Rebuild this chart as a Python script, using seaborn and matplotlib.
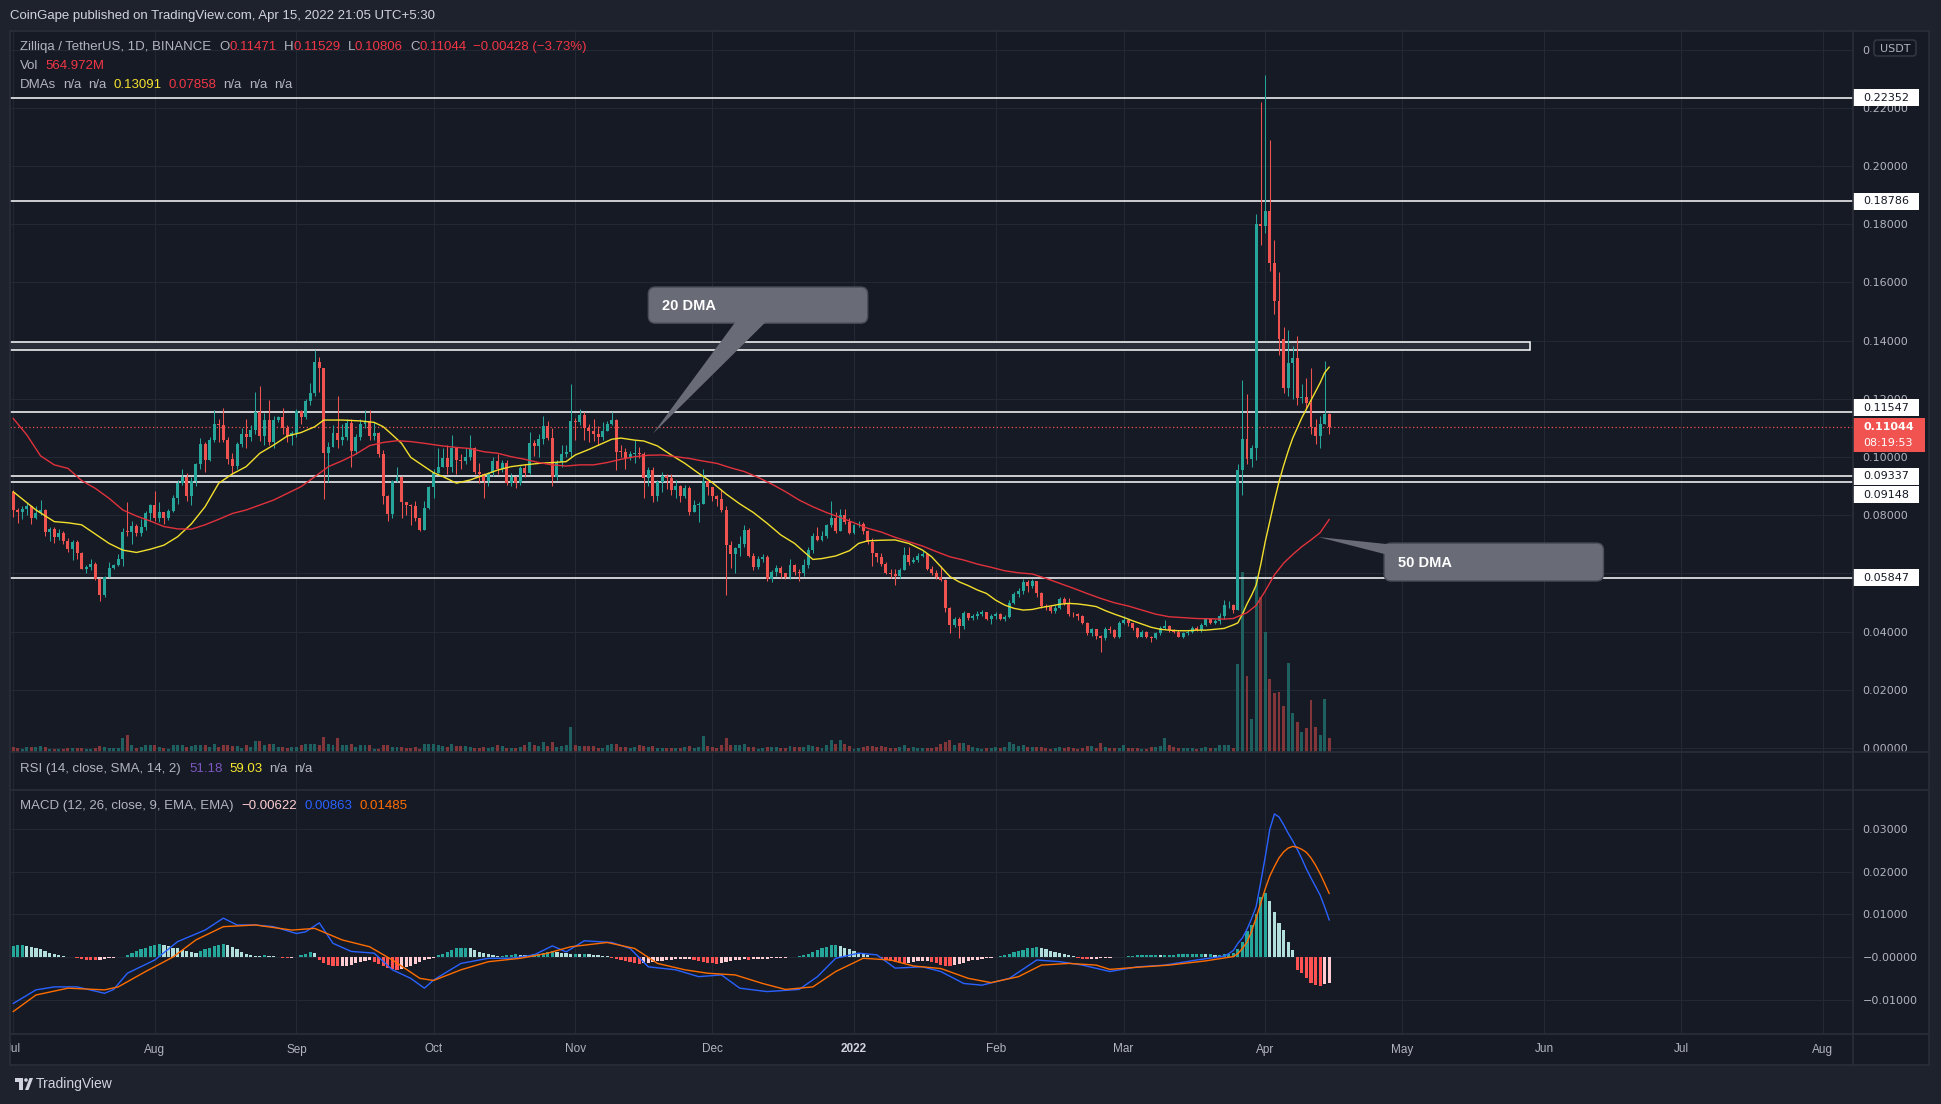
import numpy as np
import pandas as pd
import matplotlib
matplotlib.use("Agg")
import matplotlib.pyplot as plt
import matplotlib.dates as mdates
from matplotlib.patches import Rectangle, FancyBboxPatch, Polygon, Circle
import seaborn as sns

# ---------------- data (ZIL/USDT, 1D, Binance) ----------------
start_date = "2021-07-01"
first_open = 0.0881

closes = [
    .0818, .0812, .0823, .0832, .0790, .0808, .0818, .0743, .0752, .0726,
    .0738, .0712, .0685, .0707, .0671, .0614, .0622, .0632, .0580, .0525,
    .0586, .0618, .0628, .0648, .0743, .0742, .0763, .0740, .0760, .0806,
    .0835, .0790, .0812, .0790, .0816, .0858, .0912, .0932, .0867, .0918,
    .0975, .1045, .0988, .1058, .1115, .1110, .1058, .0992, .0970, .1045,
    .1080, .1068, .1093, .1154, .1072, .1127, .1053, .1127, .1137, .1100,
    .1072, .1081, .1157, .1136, .1192, .1221, .1327, .1307, .1015, .1035,
    .1083, .1058, .1070, .1118, .1022, .1070, .1113, .1122, .1072, .1083,
    .1010, .0866, .0804, .0918, .0932, .0846, .0835, .0832, .0790, .0750,
    .0824, .0898, .0944, .0965, .0998, .0966, .1032, .0990, .0985, .1000,
    .1030, .0950, .0942, .0916, .0944, .0986, .0960, .0978, .0910, .0930,
    .0912, .0962, .0944, .1047, .1037, .1061, .1106, .1065, .0932, .0983,
    .1010, .1018, .1125, .1120, .1144, .1098, .1090, .1080, .1070, .1090,
    .1112, .1127, .1018, .1016, .0998, .1012, .1015, .1012, .0927, .0955,
    .0866, .0915, .0933, .0928, .0888, .0902, .0866, .0895, .0812, .0834,
    .0840, .0918, .0896, .0866, .0856, .0817, .0698, .0665, .0686, .0700,
    .0749, .0660, .0621, .0651, .0657, .0580, .0606, .0620, .0600, .0589,
    .0630, .0606, .0600, .0628, .0681, .0728, .0715, .0728, .0766, .0790,
    .0747, .0801, .0778, .0740, .0766, .0770, .0744, .0708, .0669, .0656,
    .0632, .0602, .0598, .0590, .0613, .0663, .0640, .0645, .0660, .0666,
    .0614, .0603, .0589, .0578, .0480, .0423, .0443, .0420, .0463, .0448,
    .0455, .0462, .0466, .0445, .0452, .0460, .0443, .0451, .0500, .0530,
    .0540, .0572, .0556, .0574, .0531, .0487, .0483, .0472, .0482, .0512,
    .0497, .0460, .0459, .0453, .0430, .0394, .0408, .0385, .0377, .0408,
    .0404, .0383, .0428, .0440, .0428, .0411, .0383, .0400, .0382, .0377,
    .0394, .0414, .0419, .0405, .0400, .0383, .0394, .0400, .0412, .0406,
    .0423, .0442, .0428, .0435, .0452, .0490, .0492, .0475, .0957, .1061,
    .0992, .1030, .1800, .1795, .1845, .1667, .1537, .1407, .1237, .1322,
    .1340, .1202, .1205, .1185, .1103, .1072, .1115, .11471, .11044,
]

highs = [
    .0885, .0825, .0832, .0845, .0836, .0830, .0852, .0820, .0760, .0760,
    .0752, .0745, .0720, .0715, .0715, .0675, .0630, .0648, .0640, .0585,
    .0590, .0640, .0634, .0665, .0755, .0846, .0780, .0770, .0786, .0816,
    .0840, .0883, .0846, .0812, .0820, .0870, .0920, .0960, .0945, .0930,
    .0980, .1065, .1050, .1070, .1162, .1130, .1168, .1068, .1015, .1050,
    .1100, .1130, .1110, .1222, .1245, .1150, .1195, .1140, .1140, .1170,
    .1110, .1090, .1165, .1160, .1200, .1255, .1367, .1345, .1307, .1050,
    .1110, .1210, .1115, .1130, .1130, .1080, .1130, .1160, .1162, .1120,
    .1085, .1025, .0868, .0920, .0966, .0936, .0845, .0840, .0850, .0790,
    .0850, .0900, .0960, .1030, .1030, .1040, .1075, .1030, .1010, .1030,
    .1075, .1035, .0980, .0945, .0950, .1000, .1010, .0990, .0990, .0945,
    .0935, .0970, .0975, .1085, .1060, .1080, .1140, .1125, .1100, .0990,
    .1040, .1040, .1250, .1135, .1165, .1155, .1115, .1130, .1105, .1120,
    .1125, .1155, .1130, .1040, .1030, .1020, .1060, .1035, .1016, .0965,
    .0965, .0920, .0948, .0940, .0940, .0920, .0905, .0905, .0900, .0852,
    .0845, .0960, .0920, .0880, .0870, .0890, .0830, .0710, .0690, .0730,
    .0765, .0755, .0670, .0660, .0665, .0662, .0612, .0630, .0625, .0600,
    .0650, .0632, .0615, .0650, .0690, .0740, .0760, .0745, .0770, .0850,
    .0810, .0820, .0820, .0790, .0770, .0780, .0775, .0750, .0720, .0670,
    .0670, .0640, .0615, .0615, .0620, .0690, .0692, .0655, .0670, .0676,
    .0668, .0625, .0610, .0625, .0580, .0485, .0450, .0450, .0470, .0465,
    .0462, .0470, .0475, .0468, .0460, .0466, .0465, .0456, .0510, .0537,
    .0550, .0580, .0577, .0580, .0575, .0535, .0495, .0490, .0490, .0518,
    .0520, .0515, .0468, .0465, .0456, .0432, .0412, .0410, .0390, .0415,
    .0420, .0410, .0435, .0455, .0442, .0430, .0415, .0405, .0402, .0385,
    .0398, .0420, .0440, .0423, .0410, .0405, .0398, .0405, .0418, .0420,
    .0430, .0448, .0448, .0445, .0465, .0510, .0505, .0495, .0975, .1265,
    .1215, .1040, .1835, .2219, .2311, .2089, .1747, .1637, .1447, .1437,
    .1380, .1415, .1250, .1272, .1305, .1130, .1140, .1330, .11529,
]

lows = [
    .0795, .0772, .0786, .0800, .0770, .0788, .0800, .0728, .0710, .0706,
    .0715, .0700, .0672, .0645, .0650, .0614, .0600, .0612, .0578, .0505,
    .0520, .0590, .0614, .0625, .0625, .0730, .0700, .0730, .0730, .0750,
    .0780, .0780, .0775, .0770, .0785, .0810, .0840, .0905, .0850, .0836,
    .0900, .0960, .0950, .0985, .1050, .1050, .1050, .0975, .0940, .0960,
    .1035, .1030, .1055, .1080, .1055, .1040, .1040, .1030, .1120, .1080,
    .1050, .1040, .1070, .1115, .1130, .1180, .1210, .1224, .0856, .0913,
    .1035, .1030, .1040, .1060, .0965, .1010, .1060, .1100, .1060, .1060,
    .1000, .0840, .0780, .0790, .0915, .0790, .0800, .0765, .0780, .0745,
    .0748, .0820, .0860, .0950, .0965, .0940, .0950, .0940, .0960, .0975,
    .0990, .0940, .0910, .0860, .0900, .0935, .0940, .0950, .0905, .0900,
    .0895, .0905, .0930, .0940, .1005, .1000, .1045, .1060, .0900, .0920,
    .0965, .1000, .1000, .1060, .1110, .1060, .1050, .1055, .1040, .1060,
    .1090, .1110, .0955, .1000, .0960, .0990, .0980, .0995, .0860, .0900,
    .0845, .0850, .0880, .0890, .0870, .0860, .0845, .0860, .0800, .0810,
    .0775, .0840, .0870, .0850, .0830, .0810, .0526, .0620, .0600, .0660,
    .0690, .0655, .0610, .0615, .0640, .0575, .0570, .0590, .0585, .0580,
    .0580, .0595, .0575, .0590, .0620, .0670, .0710, .0710, .0720, .0760,
    .0740, .0745, .0770, .0735, .0735, .0760, .0735, .0700, .0625, .0640,
    .0625, .0597, .0585, .0560, .0585, .0610, .0630, .0635, .0640, .0655,
    .0610, .0595, .0580, .0575, .0468, .0394, .0415, .0378, .0410, .0440,
    .0440, .0445, .0455, .0440, .0425, .0445, .0440, .0438, .0448, .0495,
    .0520, .0530, .0535, .0550, .0520, .0482, .0475, .0465, .0465, .0478,
    .0490, .0455, .0450, .0440, .0425, .0390, .0385, .0375, .0331, .0372,
    .0395, .0378, .0378, .0425, .0420, .0405, .0378, .0380, .0378, .0365,
    .0375, .0390, .0410, .0400, .0395, .0380, .0378, .0388, .0395, .0402,
    .0400, .0420, .0425, .0425, .0425, .0445, .0480, .0465, .0475, .0870,
    .0975, .0965, .0990, .1728, .1770, .1640, .1490, .1350, .1220, .1210,
    .1200, .1180, .1185, .1170, .1080, .1045, .1030, .1125, .10806,
]

volume_m = [
    200, 160, 120, 200, 200, 200, 240, 200, 120, 120,
    120, 120, 160, 160, 160, 160, 120, 120, 160, 240,
    200, 160, 160, 160, 560, 680, 280, 160, 200, 280,
    280, 280, 200, 160, 120, 280, 280, 280, 200, 240,
    280, 280, 280, 200, 320, 200, 280, 280, 240, 240,
    160, 280, 200, 440, 440, 280, 320, 320, 200, 200,
    160, 200, 200, 280, 320, 320, 320, 280, 600, 320,
    280, 560, 280, 280, 320, 200, 280, 280, 280, 120,
    120, 280, 280, 200, 200, 200, 160, 160, 200, 120,
    320, 320, 320, 280, 240, 200, 320, 240, 240, 240,
    200, 160, 160, 200, 160, 200, 280, 240, 160, 160,
    160, 200, 280, 400, 280, 240, 400, 240, 400, 200,
    240, 280, 1000, 280, 240, 240, 240, 240, 160, 160,
    280, 320, 320, 200, 200, 160, 200, 280, 240, 200,
    240, 160, 160, 160, 160, 160, 160, 200, 240, 160,
    200, 640, 240, 200, 160, 280, 560, 280, 280, 280,
    320, 200, 200, 120, 160, 200, 200, 200, 160, 160,
    240, 200, 200, 200, 280, 240, 200, 160, 280, 480,
    320, 480, 320, 240, 120, 160, 200, 240, 240, 200,
    240, 200, 160, 160, 200, 280, 160, 200, 160, 160,
    160, 160, 200, 320, 400, 480, 280, 360, 360, 280,
    200, 160, 120, 160, 160, 200, 160, 200, 400, 320,
    240, 280, 200, 200, 200, 200, 160, 120, 160, 200,
    160, 200, 160, 120, 160, 240, 240, 160, 360, 200,
    160, 160, 160, 280, 160, 160, 160, 120, 120, 200,
    200, 240, 560, 280, 200, 160, 160, 160, 160, 120,
    160, 200, 160, 160, 280, 280, 280, 160, 3520, 7200,
    3040, 1320, 7040, 6200, 4800, 2920, 2360, 2400, 1840, 3560,
    1560, 1200, 800, 960, 2080, 1000, 680, 2120, 564.972,
]

# MACD histogram, in units of 1e-4
macd_hist_e4 = [
    26, 27, 27, 26, 24, 22, 18, 14, 10, 7,
    4, 2, 1, 0, -3, -5, -6, -7, -8, -6,
    -4, -3, -2, -1, 0, 5, 9, 13, 18, 22,
    25, 28, 30, 28, 26, 22, 20, 16, 14, 12,
    10, 14, 18, 22, 26, 28, 30, 27, 24, 18,
    12, 8, 5, 3, 2, 4, 3, 2, 1, -2,
    -3, -3, -1, 4, 8, 12, 10, -8, -14, -18,
    -20, -22, -22, -20, -18, -15, -12, -10, -8, -12,
    -16, -22, -26, -28, -30, -28, -24, -20, -16, -12,
    -8, -5, -2, 4, 8, 12, 16, 20, 22, 22,
    20, 16, 12, 9, 6, 4, 3, 3, 4, 5,
    6, 5, 4, 5, 6, 8, 10, 12, 13, 12,
    10, 9, 8, 8, 6, 7, 6, 5, 4, 3,
    2, -2, -4, -7, -10, -12, -14, -16, -15, -13,
    -12, -10, -9, -7, -6, -5, -5, -4, -4, -6,
    -9, -12, -14, -15, -16, -15, -12, -10, -8, -6,
    -5, -6, -5, -5, -4, -4, -3, -3, -2, -2,
    -1, 1, 2, 4, 8, 12, 16, 20, 24, 27,
    28, 26, 22, 18, 14, 10, 7, 4, 1, -1,
    -3, -6, -9, -12, -14, -15, -13, -11, -10, -9,
    -9, -12, -15, -18, -20, -21, -19, -16, -13, -10,
    -8, -6, -4, -3, -2, -1, 2, 4, 7, 11,
    14, 17, 20, 22, 23, 21, 18, 15, 12, 9,
    6, 4, 2, -2, -4, -5, -5, -4, -3, -3,
    -2, -1, 0, 1, 2, 3, 4, 4, 5, 5,
    5, 4, 4, 5, 5, 6, 6, 6, 6, 7,
    7, 6, 6, 5, 5, 7, 8, 9, 18, 36,
    60, 75, 100, 141, 149, 130, 106, 80, 63, 35,
    16, -30, -38, -50, -62, -66, -69, -64, -62,
]

# moving averages and MACD lines, sampled (day number since Jul 1 2021, value)
dma20_days = [0, 5, 9, 12, 15, 18, 21, 24, 27, 30, 33, 36, 39, 42, 45, 48, 51, 54, 57, 60,
              63, 66, 68, 72, 76, 79, 81, 83, 85, 87, 90, 92, 94, 97, 100, 103, 106, 109, 112, 115,
              118, 121, 123, 126, 129, 131, 133, 136, 138, 141, 144, 147, 150, 153, 156, 159, 162, 165, 168, 171,
              173, 175, 177, 180, 183, 185, 187, 190, 193, 196, 199, 201, 203, 205, 207, 209, 211, 213, 215, 217,
              219, 221, 223, 225, 227, 229, 231, 233, 235, 237, 239, 241, 243, 245, 247, 249, 251, 253, 255, 257,
              259, 261, 263, 265, 267, 268, 269, 270, 271, 272, 273, 274, 275, 276, 277, 278, 279, 280, 281, 282,
              283, 284, 285, 286, 287, 288]
dma20_vals = [.0881, .0818, .0778, .0774, .0767, .0735, .0703, .0680, .0672, .0683, .0697, .0726, .0770, .0829, .0910, .0942, .0967, .1013, .1041, .1072,
              .1084, .1104, .1127, .1127, .1124, .1119, .1104, .1076, .1047, .0999, .0967, .0946, .0933, .0910, .0921, .0938, .0955, .0967, .0973, .0978,
              .0981, .0984, .1007, .1026, .1047, .1061, .1065, .1058, .1055, .1038, .1007, .0978, .0944, .0912, .0873, .0839, .0809, .0772, .0732, .0703,
              .0675, .0648, .0651, .0660, .0678, .0703, .0712, .0714, .0715, .0703, .0680, .0657, .0623, .0589, .0571, .0558, .0543, .0531, .0508, .0491,
              .0480, .0474, .0476, .0483, .0488, .0494, .0497, .0495, .0491, .0486, .0472, .0460, .0449, .0437, .0426, .0415, .0408, .0405, .0403, .0403,
              .0405, .0405, .0408, .0411, .0423, .0430, .0460, .0495, .0525, .0560, .0630, .0710, .0780, .0850, .0915, .0970, .1020, .1065, .1100, .1135,
              .1165, .1195, .1225, .1255, .1290, .13091]

dma50_days = [0, 3, 6, 9, 12, 15, 18, 21, 24, 27, 30, 33, 36, 39, 42, 45, 48, 51, 54, 57,
              60, 63, 66, 69, 72, 75, 78, 81, 84, 87, 90, 94, 97, 100, 103, 106, 109, 112, 115, 118,
              121, 124, 127, 130, 133, 136, 139, 142, 145, 148, 151, 154, 157, 160, 163, 166, 169, 172, 175, 178,
              181, 184, 187, 190, 193, 196, 199, 202, 205, 208, 211, 214, 217, 220, 223, 226, 229, 232, 235, 238,
              241, 244, 247, 250, 253, 256, 259, 262, 265, 267, 268, 270, 272, 274, 276, 278, 280, 282, 284, 286, 288]
dma50_vals = [.1133, .1076, .1004, .0973, .0961, .0919, .0892, .0858, .0818, .0797, .0780, .0761, .0753, .0752, .0767, .0786, .0806, .0818, .0835, .0852,
              .0875, .0898, .0932, .0967, .0987, .1010, .1039, .1050, .1056, .1053, .1047, .1038, .1033, .1029, .1018, .1013, .1001, .0992, .0981, .0973,
              .0969, .0973, .0973, .0981, .0992, .1001, .1006, .1007, .1001, .0995, .0986, .0978, .0963, .0950, .0930, .0907, .0881, .0852, .0829, .0809,
              .0792, .0774, .0755, .0742, .0724, .0709, .0694, .0675, .0657, .0646, .0632, .0621, .0609, .0602, .0598, .0583, .0566, .0549, .0531, .0514,
              .0499, .0488, .0474, .0460, .0451, .0448, .0445, .0444, .0443, .0445, .0452, .0465, .0490, .0540, .0595, .0635, .0665, .0692, .0715, .0740, .07858]

macd_days = [0, 5, 9, 14, 20, 22, 25, 31, 36, 42, 46, 49, 53, 57, 62, 64, 67, 70, 74, 79,
             83, 87, 90, 92, 98, 104, 109, 114, 118, 121, 125, 131, 135, 139, 145, 150, 155, 159, 165, 172,
             176, 180, 185, 189, 193, 199, 203, 208, 212, 218, 224, 229, 234, 240, 246, 252, 259, 265, 266, 267,
             268, 269, 270, 271, 272, 273, 274, 275, 276, 277, 278, 279, 280, 281, 282, 283, 284, 285, 286, 287,
             288]
macd_vals = [-.0109, -.0077, -.0070, -.0070, -.0085, -.0076, -.0038, -.0007, .0036, .0063, .0091, .0075, .0075, .0071, .0055, .0059, .0080, .0032, .0013, .0009,
             -.0030, -.0050, -.0073, -.0054, -.0015, -.0003, -.0003, .0005, .0026, .0012, .0038, .0034, .0020, -.0023, -.0030, -.0046, -.0042, -.0073, -.0081, -.0076,
             -.0046, -.0003, .0009, .0005, -.0026, -.0023, -.0034, -.0062, -.0066, -.0050, -.0007, -.0011, -.0019, -.0034, -.0023, -.0019, -.0007, .0002, .0008, .0015,
             .0032, .0045, .0065, .0090, .0118, .0175, .0235, .0300, .0335, .0328, .0310, .0290, .0272, .0252, .0230, .0206, .0185, .0165, .0145, .0117,
             .00863]

signal_days = [0, 5, 12, 20, 23, 29, 35, 40, 46, 53, 61, 66, 72, 78, 83, 89, 92, 98, 104, 111,
               117, 122, 130, 136, 141, 147, 152, 158, 164, 169, 175, 180, 186, 192, 197, 203, 209, 214, 220, 225,
               231, 237, 240, 246, 253, 261, 267, 268, 269, 270, 271, 272, 273, 274, 275, 276, 277, 278, 279, 280,
               281, 282, 283, 284, 285, 286, 287, 288]
signal_vals = [-.0128, -.0089, -.0073, -.0077, -.0070, -.0034, .0000, .0040, .0071, .0075, .0063, .0067, .0040, .0024, -.0007, -.0050, -.0055, -.0030, -.0011, -.0003,
               .0009, .0024, .0034, .0020, -.0015, -.0030, -.0038, -.0042, -.0062, -.0076, -.0070, -.0034, -.0003, -.0007, -.0021, -.0027, -.0050, -.0060, -.0046, -.0019,
               -.0015, -.0019, -.0029, -.0024, -.0019, -.0009, .0001, .0008, .0020, .0035, .0060, .0092, .0126, .0160, .0190, .0212, .0232, .0246, .0255, .0259,
               .0257, .0252, .0245, .0232, .0215, .0195, .0172, .01485]

levels = [0.22352, 0.18786, 0.11547, 0.09337, 0.09148, 0.05847]
label_shift_px = {0.11547: -4, 0.09148: 13}
zone_low, zone_high = 0.1367, 0.1396
zone_end = "2022-05-29"
last_price = 0.11044
countdown = "08:19:53"

price_ticks = [0.00, 0.02, 0.04, 0.06, 0.08, 0.10, 0.12, 0.14, 0.16, 0.18, 0.20, 0.22, 0.24]
price_tick_labels = [f"{v:.5f}" for v in price_ticks[:-1]] + ["0"]   # top label is hidden behind the USDT tag
macd_ticks = [0.03, 0.02, 0.01, 0.0, -0.01]
macd_tick_labels = ["0.03000", "0.02000", "0.01000", "\u22120.00000", "\u22120.01000"]
month_labels = ["Jul", "Aug", "Sep", "Oct", "Nov", "Dec", "2022", "Feb", "Mar", "Apr", "May", "Jun", "Jul", "Aug"]

# ---------------- style ----------------
sns.set_theme(style="dark")
plt.rcParams["font.family"] = ["Liberation Sans", "DejaVu Sans"]

OUTER = "#1e222d"
PANE = "#161a25"
GRID = "#232835"
SEP = "#2a2e39"
TXT = "#b2b5be"
UP = "#26a69a"
DOWN = "#ef5350"

W, H = 1941, 1104
L, R = 10, 1853


def frac(x0, y0, x1, y1):
    return [x0 / W, 1 - y1 / H, (x1 - x0) / W, (y1 - y0) / H]


base = mdates.date2num(pd.Timestamp(start_date))
dates = pd.date_range(start_date, periods=len(closes), freq="D")
xd = mdates.date2num(dates)
xlim = (base - 0.68, base + 402.6)

c = np.array(closes)
o = np.array([first_open] + closes[:-1])   # daily candles open at the previous close
h = np.maximum(np.array(highs), np.maximum(o, c))
lo = np.minimum(np.array(lows), np.minimum(o, c))
up = c >= o

fig = plt.figure(figsize=(W / 100, H / 100), dpi=100, facecolor=OUTER)
fig.add_artist(Rectangle((L / W, 1 - 1065 / H), (1929 - L) / W, (1065 - 31) / H,
                         transform=fig.transFigure, facecolor=PANE, edgecolor="none", zorder=-5))


def make_axes(y0, y1, name):
    a = fig.add_axes(frac(L, y0, R, y1), label=name)
    a.set_facecolor("none")
    a.grid(False)
    for s in a.spines.values():
        s.set_visible(False)
    a.tick_params(bottom=False, labelbottom=False, left=False, labelleft=False,
                  right=False, labelright=False, top=False, labeltop=False)
    return a


axg = make_axes(31, 752, "grid")
axv = make_axes(31, 752, "volume")
ax = make_axes(31, 752, "price")
axr = make_axes(752, 790, "rsi")
axm = make_axes(790, 1034, "macd")
axt = make_axes(1034, 1065, "time")

p_lo, p_hi = (748 - 752) / 2910, (748 - 31) / 2910
m_lo, m_hi = (957 - 1034) / 4270, (957 - 790) / 4270

months = mdates.date2num(pd.date_range("2021-07-01", "2022-08-01", freq="MS"))

# grid
for a in (axg, axr, axm):
    for m in months:
        a.axvline(m, color=GRID, lw=0.8, zorder=0)
for v in price_ticks:
    axg.axhline(v, color=GRID, lw=0.8, zorder=0)
for v in macd_ticks:
    axm.axhline(v, color=GRID, lw=0.8, zorder=0)

# volume
vcol = np.where(up, "#1e605f", "#82363a")
axv.bar(xd, volume_m, width=0.65, color=vcol, linewidth=0)

# candles
ccol = np.where(up, UP, DOWN)
ax.vlines(xd, lo, h, colors=ccol, lw=0.75, zorder=4)
ax.bar(xd, np.maximum(np.abs(c - o), 0.0003), bottom=np.minimum(o, c), width=0.65,
       color=ccol, linewidth=0, zorder=5)

# moving averages
sns.lineplot(x=base + np.array(dma20_days), y=dma20_vals, ax=ax, color="#f2df2c", linewidth=1.0, legend=False, zorder=6)
sns.lineplot(x=base + np.array(dma50_days), y=dma50_vals, ax=ax, color="#e0323c", linewidth=1.0, legend=False, zorder=6)

# horizontal levels and zone
for lv in levels:
    ax.axhline(lv, color="white", lw=1.1, zorder=3)
zone_x1 = mdates.date2num(pd.Timestamp(zone_end))
ax.add_patch(Rectangle((xlim[0] - 5, zone_low), zone_x1 - xlim[0] + 5, zone_high - zone_low,
                       facecolor="#2a2e39", edgecolor="white", lw=1.1, zorder=3))
ax.axhline(last_price, color=DOWN, lw=0.9, ls=(0, (1, 2)), zorder=3)

# MACD
hist = np.array(macd_hist_e4) * 1e-4
prev = np.r_[hist[0], hist[:-1]]
hcol = np.where(hist >= 0, np.where(hist >= prev, "#26a69a", "#b2dfdb"),
                np.where(hist < prev, "#ff5252", "#ffcdd2"))
axm.bar(xd, hist, width=0.7, color=hcol, linewidth=0, zorder=2)
sns.lineplot(x=base + np.array(macd_days), y=macd_vals, ax=axm, color="#2962ff", linewidth=1.0, legend=False, zorder=3)
sns.lineplot(x=base + np.array(signal_days), y=signal_vals, ax=axm, color="#ff6d00", linewidth=1.0, legend=False, zorder=3)

# limits
for a in (axg, axv, ax, axr, axm, axt):
    a.set_xlim(*xlim)
    a.set_xlabel("")
    a.set_ylabel("")
axg.set_ylim(p_lo, p_hi)
ax.set_ylim(p_lo, p_hi)
axv.set_ylim(0, 721 * 40)
axm.set_ylim(m_lo, m_hi)
axr.set_ylim(0, 1)
axt.set_ylim(0, 1)

# right-hand scales
ax.set_yticks(price_ticks)
ax.set_yticklabels(price_tick_labels)
ax.tick_params(axis="y", right=True, labelright=True, left=False, labelleft=False,
               length=0, pad=7, labelsize=8, labelcolor=TXT)
axm.set_yticks(macd_ticks)
axm.set_yticklabels(macd_tick_labels)
axm.tick_params(axis="y", right=True, labelright=True, left=False, labelleft=False,
                length=0, pad=7, labelsize=8, labelcolor=TXT)
for lab in ax.get_yticklabels() + axm.get_yticklabels():
    lab.set_fontfamily("DejaVu Sans")

# time axis labels (clipped at the pane edge like the original)
for m, s in zip(months, month_labels):
    bold = s == "2022"
    axt.text(m, 0.5, s, ha="center", va="center", fontsize=8.5, clip_on=True,
             color="#d1d4dc" if bold else TXT, fontweight="bold" if bold else "normal")

# ---------------- overlay in pixel units ----------------
ov = fig.add_axes([0, 0, 1, 1], label="overlay", zorder=20)
ov.set_xlim(0, W)
ov.set_ylim(H, 0)
ov.axis("off")


def to_px(a, xv, yv):
    dx, dy = a.transData.transform((xv, yv))
    return dx, H - dy


# frame and pane separators
ov.add_patch(Rectangle((L, 31), 1929 - L, 1065 - 31, fill=False, ec=SEP, lw=1.2))
for yy in (752, 790, 1034):
    ov.plot([L, 1929], [yy, yy], color=SEP, lw=1.2)
ov.plot([R, R], [31, 1065], color=SEP, lw=1.2)


# price-axis labels for the levels
def right_label(val, text, dy=0):
    _, yp = to_px(ax, xlim[0], val)
    yp += dy
    ov.add_patch(Rectangle((R, yp - 8.5), 66, 17, facecolor="white", edgecolor="none"))
    ov.text(R + 10, yp, text, color="#131722", fontsize=8, va="center", ha="left", family="DejaVu Sans")


for lv in levels:
    right_label(lv, f"{lv:.5f}", dy=label_shift_px.get(lv, 0))

_, yp = to_px(ax, xlim[0], last_price)
ov.add_patch(Rectangle((R, yp - 9), 72, 34, facecolor="#f05350", edgecolor="none"))
ov.text(R + 10, yp + 0.5, f"{last_price:.5f}", color="white", fontsize=8, fontweight="bold",
        va="center", ha="left", family="DejaVu Sans")
ov.text(R + 10, yp + 16, countdown, color="white", fontsize=8, va="center", ha="left", family="DejaVu Sans")

ov.add_patch(FancyBboxPatch((1874, 40), 42, 16, boxstyle="round,pad=0,rounding_size=3",
                            facecolor="#131722", edgecolor="#363a45", lw=1))
ov.text(1895, 48.5, "USDT", color=TXT, fontsize=8, ha="center", va="center", family="DejaVu Sans")

# callouts
CALL = "#696c77"


def callout(x0, x1, y0, y1, tip, base_pts, label):
    bx0, by1 = to_px(ax, mdates.date2num(pd.Timestamp(x0)), y0)
    bx1, by0 = to_px(ax, mdates.date2num(pd.Timestamp(x1)), y1)
    tx, ty = to_px(ax, mdates.date2num(pd.Timestamp(tip[0])), tip[1])
    ov.add_patch(FancyBboxPatch((bx0, by0), bx1 - bx0, by1 - by0, boxstyle="round,pad=0,rounding_size=7",
                                facecolor=CALL, edgecolor="#4b4e58", lw=1))
    pts = [(tx, ty)] + [(bx0 + fx * (bx1 - bx0), by0 + fy * (by1 - by0)) for fx, fy in base_pts]
    ov.add_patch(Polygon(pts, closed=True, facecolor=CALL, edgecolor="none"))
    ov.text(bx0 + 14, (by0 + by1) / 2 + 1, label, color="white", fontsize=10.5, fontweight="bold",
            ha="left", va="center")


callout("2021-11-17", "2022-01-04", 0.1460, 0.1584, ("2021-11-18", 0.1080),
        [(0.40, 0.94), (0.54, 0.94)], "20 DMA")
callout("2022-04-27", "2022-06-14", 0.0574, 0.0704, ("2022-04-12 14:00", 0.0725),
        [(0.055, 0.05), (0.01, 0.30)], "50 DMA")


# legends
def chain(x, y, parts, size=9.5):
    prev_t = None
    for s, col, gap in parts:
        if prev_t is None:
            prev_t = ov.text(x, y, s, color=col, fontsize=size, ha="left", va="center")
        else:
            prev_t = ov.annotate(s, xy=(1, 0), xycoords=prev_t, xytext=(gap, 0), textcoords="offset points",
                                 color=col, fontsize=size, ha="left", va="bottom")


RED = "#f23645"
ov.text(10, 16, "CoinGape published on TradingView.com, Apr 15, 2022 21:05 UTC+5:30",
        color="#d1d4dc", fontsize=9.5, ha="left", va="center")
chain(20, 47, [("Zilliqa / TetherUS, 1D, BINANCE", TXT, 0), ("O", TXT, 6), ("0.11471", RED, 0),
               ("H", TXT, 5), ("0.11529", RED, 0), ("L", TXT, 5), ("0.10806", RED, 0),
               ("C", TXT, 5), ("0.11044", RED, 0), ("\u22120.00428 (\u22123.73%)", RED, 5)])
chain(20, 66, [("Vol", TXT, 0), ("564.972M", RED, 5)])
chain(20, 85, [("DMAs", TXT, 0), ("n/a", TXT, 5), ("n/a", TXT, 5), ("0.13091", "#f5e12f", 5),
               ("0.07858", RED, 5), ("n/a", TXT, 5), ("n/a", TXT, 5), ("n/a", TXT, 5)])
chain(20, 769, [("RSI (14, close, SMA, 14, 2)", TXT, 0), ("51.18", "#7e57c2", 6), ("59.03", "#f7e92d", 5),
                ("n/a", TXT, 5), ("n/a", TXT, 5)])
chain(20, 806, [("MACD (12, 26, close, 9, EMA, EMA)", TXT, 0), ("\u22120.00622", "#ffcdd2", 6),
                ("0.00863", "#2962ff", 5), ("0.01485", "#ff6d00", 5)])

# footer logo
ov.add_patch(Rectangle((15, 1078), 8, 3.5, facecolor="#d1d4dc", edgecolor="none"))
ov.add_patch(Rectangle((19, 1078), 4, 12, facecolor="#d1d4dc", edgecolor="none"))
ov.add_patch(Circle((26, 1080), 1.8, facecolor="#d1d4dc", edgecolor="none"))
ov.add_patch(Polygon([(25, 1090), (29.5, 1078), (33, 1078), (28.5, 1090)], closed=True,
                     facecolor="#d1d4dc", edgecolor="none"))
ov.text(36, 1084, "TradingView", color="#d1d4dc", fontsize=10, ha="left", va="center")

fig.savefig("out.png", dpi=100, facecolor=fig.get_facecolor())
